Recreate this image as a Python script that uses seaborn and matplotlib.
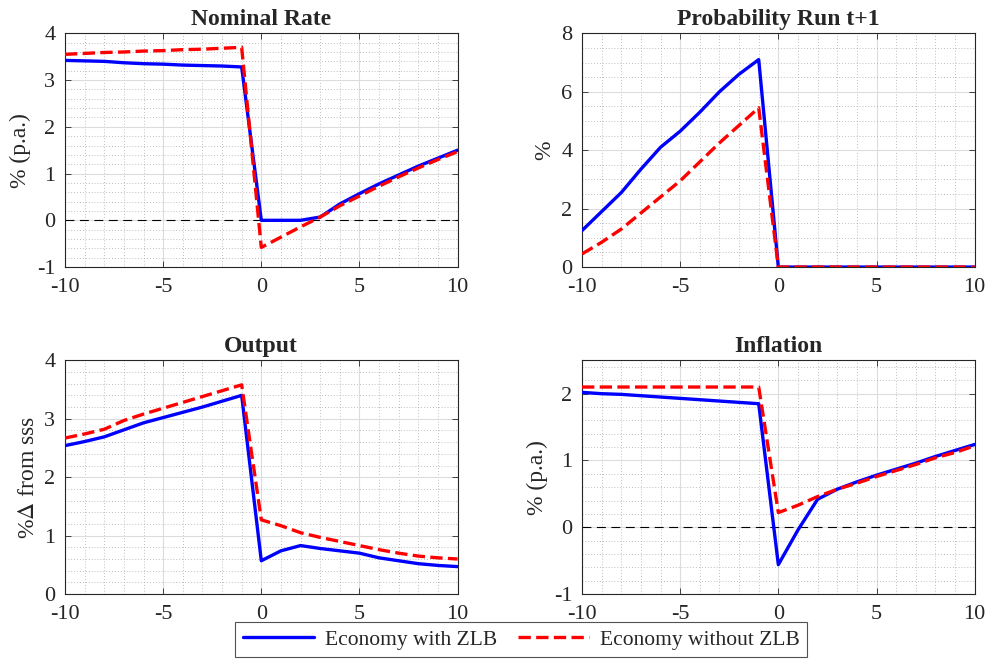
import numpy as np
import pandas as pd
import matplotlib
matplotlib.use("Agg")
import matplotlib.pyplot as plt
from matplotlib.ticker import MultipleLocator
import seaborn as sns

sns.set_theme(style="ticks")
plt.rcParams['font.family'] = ['Liberation Serif', 'DejaVu Serif']
plt.rcParams['mathtext.fontset'] = 'stix'
plt.rcParams['axes.unicode_minus'] = False

# periods around the run
periods = list(range(-10, 11))

# Nominal Rate
rate_zlb = [3.42, 3.41, 3.40, 3.37, 3.35, 3.34, 3.32, 3.31, 3.30, 3.28,
            0.00, 0.00, 0.00, 0.07, 0.35, 0.57, 0.78, 0.97, 1.16, 1.33, 1.50]
rate_nozlb = [3.55, 3.57, 3.59, 3.60, 3.62, 3.63, 3.65, 3.66, 3.68, 3.70,
              -0.58, -0.36, -0.14, 0.07, 0.31, 0.52, 0.73, 0.93, 1.12, 1.30, 1.47]

# Probability Run t+1
prob_zlb = [1.25, 1.90, 2.55, 3.35, 4.10, 4.65, 5.30, 6.00, 6.60, 7.10,
            0, 0, 0, 0, 0, 0, 0, 0, 0, 0, 0]
prob_nozlb = [0.45, 0.85, 1.30, 1.85, 2.40, 2.95, 3.60, 4.25, 4.85, 5.45,
              0, 0, 0, 0, 0, 0, 0, 0, 0, 0, 0]

# Output
out_zlb = [2.54, 2.61, 2.69, 2.81, 2.93, 3.02, 3.11, 3.20, 3.30, 3.40,
           0.57, 0.74, 0.83, 0.78, 0.74, 0.70, 0.62, 0.57, 0.52, 0.49, 0.47]
out_nozlb = [2.67, 2.74, 2.82, 2.97, 3.08, 3.18, 3.28, 3.38, 3.48, 3.58,
             1.27, 1.17, 1.05, 0.97, 0.90, 0.83, 0.76, 0.70, 0.65, 0.62, 0.60]

# Inflation
infl_zlb = [2.02, 2.00, 1.99, 1.97, 1.95, 1.93, 1.91, 1.89, 1.87, 1.85,
            -0.56, -0.04, 0.42, 0.57, 0.68, 0.78, 0.87, 0.96, 1.06, 1.15, 1.24]
infl_nozlb = [2.10, 2.10, 2.10, 2.10, 2.10, 2.10, 2.10, 2.10, 2.10, 2.10,
              0.22, 0.33, 0.46, 0.57, 0.66, 0.76, 0.85, 0.94, 1.04, 1.12, 1.22]

labels = ["Economy with ZLB", "Economy without ZLB"]

panels = [
    ("Nominal Rate", "% (p.a.)", rate_zlb, rate_nozlb, (-1, 4), 1, 0.2, True),
    ("Probability Run t+1", "%", prob_zlb, prob_nozlb, (0, 8), 2, 0.5, False),
    ("Output", r"%$\Delta$ from sss", out_zlb, out_nozlb, (0, 4), 1, 0.2, False),
    ("Inflation", "% (p.a.)", infl_zlb, infl_nozlb, (-1, 2.5), 1, 0.2, True),
]

fig = plt.figure(figsize=(9.89, 6.66), dpi=100)
lefts = [0.0657, 0.5885]
bottoms = [0.599, 0.108]
w, h = 0.397, 0.351

for i, (title, ylab, s1, s2, ylim, ymaj, ymin, zero) in enumerate(panels):
    ax = fig.add_axes([lefts[i % 2], bottoms[i // 2], w, h])
    if zero:
        ax.axhline(0, color="black", linestyle=(0, (8, 5)), lw=0.8, zorder=2)
    sns.lineplot(x=periods, y=s1, ax=ax, color="#0000ff", lw=2.4, zorder=3)
    sns.lineplot(x=periods, y=s2, ax=ax, color="#ff0000", lw=2.4,
                 linestyle="--", zorder=4)
    ax.set_xlim(-10, 10)
    ax.set_ylim(*ylim)
    ax.xaxis.set_major_locator(MultipleLocator(5))
    ax.xaxis.set_minor_locator(MultipleLocator(1))
    ax.yaxis.set_major_locator(MultipleLocator(ymaj))
    ax.yaxis.set_minor_locator(MultipleLocator(ymin))
    ax.grid(which="major", color="#dcdcdc", lw=0.8)
    ax.grid(which="minor", color="#a8a8a8", lw=0.6, linestyle=(0, (1, 2.5)))
    ax.tick_params(which="both", direction="in", top=True, right=True,
                   colors="#262626", labelsize=16, labelcolor="#262626")
    ax.tick_params(which="minor", length=0)
    ax.tick_params(which="major", length=4, width=0.6)
    ax.tick_params(axis="x", which="major", pad=8)
    ax.tick_params(axis="y", which="major", pad=7)
    for sp in ax.spines.values():
        sp.set_color("#262626")
        sp.set_linewidth(0.8)
    ax.set_title(title, fontsize=17, fontweight="bold", pad=6)
    ax.set_ylabel(ylab, fontsize=17, color="#262626", labelpad=4)
    ax.set_xlabel("")

h1 = plt.Line2D([], [], color="#0000ff", lw=2.4)
h2 = plt.Line2D([], [], color="#ff0000", lw=2.4, linestyle="--")
leg = fig.legend([h1, h2], labels, loc="lower center", ncol=2,
                 bbox_to_anchor=(0.527, -0.003), fontsize=15.5, frameon=True,
                 fancybox=False, edgecolor="#262626", handlelength=3.3,
                 columnspacing=1.0, borderpad=0.35, handletextpad=0.5)
leg.get_frame().set_linewidth(0.8)

fig.savefig("out.png", dpi=100)
